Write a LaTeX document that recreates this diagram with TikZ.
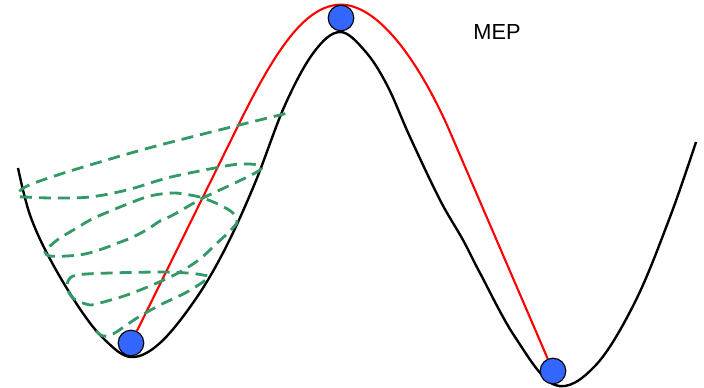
\documentclass[tikz,border=0pt]{standalone}
\usepackage{fontspec}
\setsansfont{Liberation Sans}
\usetikzlibrary{positioning, backgrounds}
\definecolor{cball}{HTML}{3366FF}
\definecolor{cband}{HTML}{339966}
\definecolor{cred}{HTML}{FF0000}
\tikzset{
  every picture/.style={font=\sffamily, line width=1.4pt},
  surface/.style={draw=black, line width=1.7pt},
  mep/.style={draw=cred, line width=1.5pt},
  band/.style={draw=cband, line width=2pt, dash pattern=on 8.5pt off 5pt},
  ball/.style={circle, draw=black, fill=cball, line width=0.8pt, inner sep=0pt, minimum size=0.64cm},
  tag/.style={font=\fontsize{15.5}{18}\selectfont\sffamily, text=black, inner sep=0pt},
}

\begin{document}
\begin{tikzpicture}[x=0.025cm, y=-0.025cm]
  \useasboundingbox (0,0) rectangle (704,388);
  \node[ball] (react) at (131,343) {};
  \node[ball] (ts) at (341,18) {};
  \node[ball] (prod) at (553,371) {};
  \node[tag, anchor=base] (lab) at (497,39) {MEP};
  \begin{scope}[on background layer]
    \draw[surface] plot[smooth, tension=0.6] coordinates {(18,168) (30,215) (50,259) (80,309) (105,340) (131,357) (160,343) (195,300) (225,249) (255,183) (285,105) (314,52) (340,32) (365,51) (387,85) (410,137) (440,200) (463,240) (480,273) (515,337) (555,385) (595,366) (635,302) (670,217) (696,142)};
    \draw[mep] (react) -- (236,130) .. controls (275,50) and (305,5) .. (ts.north) .. controls (378,5) and (417,59) .. (447,125) -- (prod);
    \draw[band] plot[smooth, tension=0.55] coordinates {(96,331) (103,336) (113,334) (137,318) (160,305) (187,292) (208,278) (203,275) (187,273) (160,272) (110,273) (77,275) (68,281) (69,293) (76,300) (90,305) (100,303) (127,295) (157,283) (180,272) (200,259) (215,245) (230,231) (237,222) (233,213) (220,205) (203,198) (190,195) (173,193) (150,196) (125,205) (108,212) (92,219) (75,229) (60,238) (50,246) (45,252) (50,256) (67,256) (85,254) (102,249) (118,243) (133,237) (148,229) (160,221) (173,215) (203,198) (237,182) (260,170) (258,165) (240,164) (220,167) (180,175) (160,180) (127,190) (90,197) (53,198) (25,197) (18,196) (22,189) (37,182) (80,168) (160,145) (288,113)};
  \end{scope}
\end{tikzpicture}
\end{document}
